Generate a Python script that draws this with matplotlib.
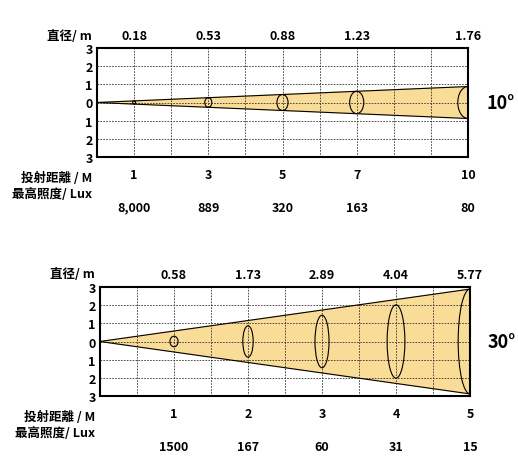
import matplotlib.pyplot as plt
from matplotlib.patches import Ellipse
import numpy as np

plt.rcParams['font.family'] = ['Noto Sans CJK SC', 'DejaVu Sans']

# 10 degree beam
dist10 = [1, 3, 5, 7, 10]
diam10 = [0.18, 0.53, 0.88, 1.23, 1.76]
lux10 = ['8,000', '889', '320', '163', '80']
ell_w10 = [0.08, 0.19, 0.30, 0.38, 0.55]

# 30 degree beam
dist30 = [1, 2, 3, 4, 5]
diam30 = [0.58, 1.73, 2.89, 4.04, 5.77]
lux30 = ['1500', '167', '60', '31', '15']
ell_w30 = [0.11, 0.14, 0.19, 0.24, 0.32]

fig = plt.figure(figsize=(5.18, 4.6), dpi=100)
W, H = 518, 460


def panel(box, xmax, dists, diams, luxes, ellw, angle, dlabels):
    x0, y0, x1, y1 = box
    ax = fig.add_axes([x0 / W, 1 - y1 / H, (x1 - x0) / W, (y1 - y0) / H])
    ax.set_xlim(0, xmax)
    ax.set_ylim(-3, 3)
    half = diams[-1] / 2 * xmax / dists[-1]
    ax.fill([0, xmax, xmax], [0, half, -half], color='#f9dc98', zorder=1)
    ax.plot([0, xmax], [0, half], color='black', lw=0.8, zorder=3)
    ax.plot([0, xmax], [0, -half], color='black', lw=0.8, zorder=3)
    for d, dm, w in zip(dists, diams, ellw):
        ax.add_patch(Ellipse((d, 0), w, dm, fill=False, ec='black', lw=0.8, zorder=3))
    for gx in np.linspace(0, xmax, 11)[1:-1]:
        ax.axvline(gx, color='#333333', lw=0.6, ls=(0, (2, 1.5)), zorder=2)
    for gy in range(-2, 3):
        ax.axhline(gy, color='#333333', lw=0.6, ls=(0, (2, 1.5)), zorder=2)
    for s in ax.spines.values():
        s.set_linewidth(1.5)
    ax.set_xticks([])
    ax.set_yticks(range(-3, 4))
    ax.set_yticklabels([str(abs(v)) for v in range(-3, 4)], fontsize=9, fontweight='bold')
    ax.tick_params(axis='y', length=0, pad=3)
    for d, dm, lx in zip(dists, diams, luxes):
        ax.text(d, 3.35, f'{dm:.2f}', ha='center', va='bottom', fontsize=9, fontweight='bold')
        ax.text(d, -3.6, str(d), ha='center', va='top', fontsize=9, fontweight='bold')
        ax.text(d, -5.4, lx, ha='center', va='top', fontsize=9, fontweight='bold')
    fig.text(dlabels[0] / W, 1 - (y0 - 13) / H, '直径/ m', ha='right', va='center',
             fontsize=9, fontweight='bold')
    fig.text(dlabels[1] / W, 1 - (y1 + 20) / H, '投射距離 / M', ha='right', va='center',
             fontsize=9, fontweight='bold')
    fig.text(dlabels[1] / W, 1 - (y1 + 37) / H, '最高照度/ Lux', ha='right', va='center',
             fontsize=9, fontweight='bold')
    fig.text((x1 + 18) / W, 1 - (y0 + y1) / 2 / H, angle, ha='left', va='center',
             fontsize=13, fontweight='bold')
    return ax


panel((97, 49, 468, 158), 10, dist10, diam10, lux10, ell_w10, '10°', (92, 92))
panel((100, 288, 470, 397), 5, dist30, diam30, lux30, ell_w30, '30°', (95, 95))

fig.savefig('out.png', dpi=100)
